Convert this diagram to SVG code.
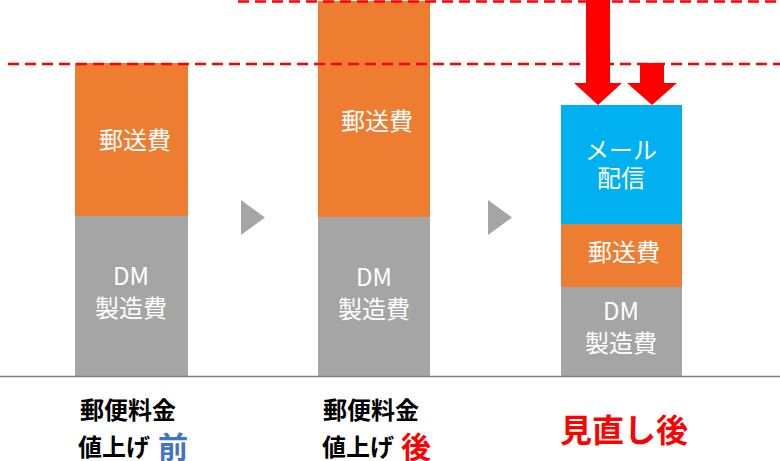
<svg xmlns="http://www.w3.org/2000/svg" width="780" height="461" viewBox="0 0 780 461">
<style>
text{font-family:"Noto Sans CJK JP","DejaVu Sans",sans-serif;text-anchor:middle}
.w{fill:#fff;font-size:24px}
.b{fill:#000;font-size:24px;font-weight:700}
.d{fill:none;stroke:#f00;stroke-width:2.5;stroke-dasharray:11 6}
</style>
<rect width="780" height="461" fill="#fff"/>
<g id="bar1">
<rect x="75" y="63" width="113" height="153" fill="#ed7d31"/>
<rect x="75" y="216" width="113" height="160" fill="#a5a5a5"/>
<text class="w" x="135" y="149">郵送費</text>
<text class="w" x="131" y="285">DM</text>
<text class="w" x="131" y="317">製造費</text>
</g>
<g id="bar2">
<rect x="318" y="1" width="112" height="216" fill="#ed7d31"/>
<rect x="318" y="217" width="112" height="159" fill="#a5a5a5"/>
<text class="w" x="377" y="130">郵送費</text>
<text class="w" x="374" y="286">DM</text>
<text class="w" x="374" y="318">製造費</text>
</g>
<g id="bar3">
<rect x="561" y="105" width="121" height="119" fill="#00b0f0"/>
<rect x="561" y="224" width="121" height="63" fill="#ed7d31"/>
<rect x="561" y="287" width="121" height="89" fill="#a5a5a5"/>
<text class="w" x="621" y="159">メール</text>
<text class="w" x="621" y="187">配信</text>
<text class="w" x="624" y="261">郵送費</text>
<text class="w" x="621" y="320">DM</text>
<text class="w" x="621" y="352">製造費</text>
</g>
<g id="connectors">
<path class="d" d="M8 64H780"/>
<path class="d" d="M238 1.500H780"/>
<path d="M0 376.500H780" stroke="#7f7f7f" stroke-width="1.500"/>
<path d="M241 200l24 17.500-24 17.500z" fill="#a5a5a5"/>
<path d="M488 200l24 17.500-24 17.500z" fill="#a5a5a5"/>
<path d="M586 0h24v83h12l-24 22-24-22h12z" fill="#f00"/>
<path d="M640 63h24v20h13l-25 22-25-22h13z" fill="#f00"/>
</g>
<g id="labels">
<text class="b" x="128" y="419">郵便料金</text>
<text class="b" x="114" y="456">値上げ</text>
<text x="173" y="458" style="font-size:30px;font-weight:700;fill:#4472c4">前</text>
<text class="b" x="371" y="419">郵便料金</text>
<text class="b" x="358" y="456">値上げ</text>
<text x="416" y="458" style="font-size:30px;font-weight:700;fill:#f00">後</text>
<text x="624" y="442" style="font-size:32px;font-weight:700;fill:#f00">見直し後</text>
</g>
</svg>
